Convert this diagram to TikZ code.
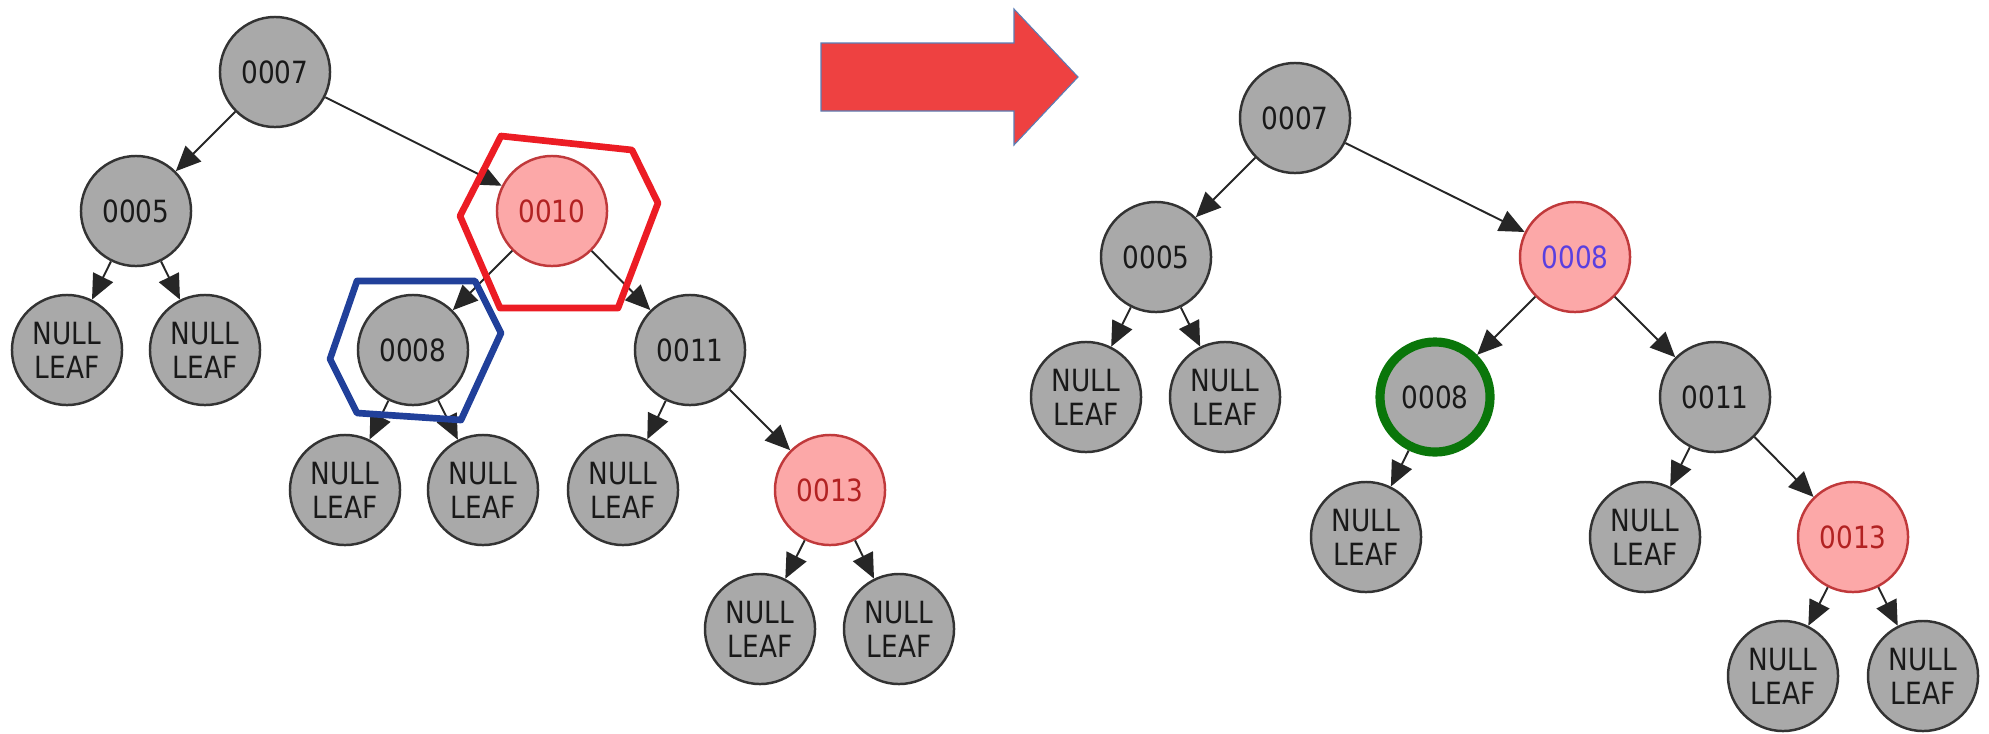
\documentclass[tikz,border=0pt]{standalone}
\usepackage{fontspec}
\newfontfamily\treefont{DejaVu Sans}[FakeStretch=0.86]
\usepackage{xcolor}
\usepackage{tikz}
\definecolor{nodeGray}{HTML}{A9A9A9}
\definecolor{nodeEdge}{HTML}{333333}
\definecolor{redFill}{HTML}{FCA8A8}
\definecolor{redEdge}{HTML}{C0393B}
\definecolor{redText}{HTML}{B22222}
\definecolor{swapBlue}{HTML}{5A3FE0}
\definecolor{ringGreen}{HTML}{0A760A}
\definecolor{hexRed}{HTML}{EC1C24}
\definecolor{hexBlue}{HTML}{21409A}
\definecolor{bigArrow}{HTML}{EE4141}
\definecolor{bigArrowEdge}{HTML}{5B7DB5}
\usetikzlibrary{arrows.meta}

\begin{document}
\begin{tikzpicture}[
  x=0.01cm, y=-0.01cm,
  font=\treefont\fontsize{8.7}{9.6}\selectfont,
  >={Triangle[length=0.25cm,width=0.22cm]},
  tnode/.style={circle, draw=nodeEdge, line width=0.7pt, fill=nodeGray, minimum size=1.1cm, inner sep=0pt, align=center, text=black!90},
  rnode/.style={tnode, draw=redEdge, fill=redFill, text=redText},
  link/.style={->, line width=0.55pt, black!85},
  hexline/.style={line width=1.9pt, line join=round}
]
\useasboundingbox (0,0) rectangle (1989,733);

% Tree before
\node[tnode] (l7) at (275,72) {0007};
\node[tnode] (l5) at (136,211) {0005};
\node[rnode] (l10) at (552,211) {0010};
\node[tnode] (n1) at (67,350) {NULL\\LEAF};
\node[tnode] (n2) at (205,350) {NULL\\LEAF};
\node[tnode] (l8) at (413,350) {0008};
\node[tnode] (l11) at (690,350) {0011};
\node[tnode] (n3) at (345,490) {NULL\\LEAF};
\node[tnode] (n4) at (483,490) {NULL\\LEAF};
\node[tnode] (n5) at (623,490) {NULL\\LEAF};
\node[rnode] (l13) at (830,490) {0013};
\node[tnode] (n6) at (760,629) {NULL\\LEAF};
\node[tnode] (n7) at (899,629) {NULL\\LEAF};

\draw[link] (l7) -- (l5);
\draw[link] (l7) -- (l10);
\draw[link] (l5) -- (n1);
\draw[link] (l5) -- (n2);
\draw[link] (l10) -- (l8);
\draw[link] (l10) -- (l11);
\draw[link] (l8) -- (n3);
\draw[link] (l8) -- (n4);
\draw[link] (l11) -- (n5);
\draw[link] (l11) -- (l13);
\draw[link] (l13) -- (n6);
\draw[link] (l13) -- (n7);

% Highlight hexagons
\draw[hexline, hexBlue] (357,281) -- (475,281) -- (501,333) -- (461,420) -- (357,413) -- (330,359) -- cycle;
\draw[hexline, hexRed] (501,136) -- (632,150) -- (658,203) -- (618,308) -- (500,308) -- (460,216) -- cycle;

% Big arrow
\fill[bigArrow, draw=bigArrowEdge, line width=0.3pt] (821,43) -- (1014,43) -- (1014,9) -- (1078,77) -- (1014,145) -- (1014,111) -- (821,111) -- cycle;

% Tree after
\node[tnode] (r7) at (1295,118) {0007};
\node[tnode] (r5) at (1156,257) {0005};
\node[rnode, text=swapBlue] (r8) at (1575,257) {0008};
\node[tnode] (m1) at (1086,397) {NULL\\LEAF};
\node[tnode] (m2) at (1225,397) {NULL\\LEAF};
\node[tnode, draw=ringGreen, line width=2.6pt] (g8) at (1435,397) {0008};
\node[tnode] (r11) at (1715,397) {0011};
\node[tnode] (m3) at (1366,537) {NULL\\LEAF};
\node[tnode] (m4) at (1645,537) {NULL\\LEAF};
\node[rnode] (r13) at (1853,537) {0013};
\node[tnode] (m5) at (1783,676) {NULL\\LEAF};
\node[tnode] (m6) at (1923,676) {NULL\\LEAF};

\draw[link] (r7) -- (r5);
\draw[link] (r7) -- (r8);
\draw[link] (r5) -- (m1);
\draw[link] (r5) -- (m2);
\draw[link] (r8) -- (g8);
\draw[link] (r8) -- (r11);
\draw[link] (g8) -- (m3);
\draw[link] (r11) -- (m4);
\draw[link] (r11) -- (r13);
\draw[link] (r13) -- (m5);
\draw[link] (r13) -- (m6);

\end{tikzpicture}
\end{document}
